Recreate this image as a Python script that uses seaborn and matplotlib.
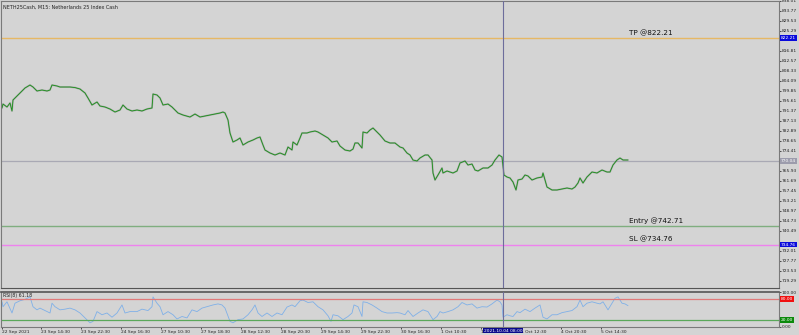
import matplotlib
matplotlib.use("Agg")
import matplotlib.pyplot as plt
import matplotlib.transforms as mtransforms
import seaborn as sns
import pandas as pd

# ---------------- data ----------------
title = "NETH25Cash, M15: Netherlands 25 Index Cash"
rsi_title = "RSI(8) 61.18"

bar_x = [2, 3, 7, 10, 12, 13, 20, 25, 30, 33, 37, 42, 47, 50, 52, 57, 60, 65, 70, 75,
         80, 85, 88, 92, 97, 100, 105, 110, 115, 120, 123, 127, 132, 137, 142, 147, 152,
         153, 157, 160, 163, 168, 172, 175, 178, 183, 190, 195, 200, 205, 210, 215, 220,
         223, 225, 228, 230, 233, 237, 240, 243, 248, 253, 257, 260, 263, 265, 270, 275,
         280, 285, 288, 292, 293, 297, 300, 302, 307, 310, 315, 318, 323, 328, 332, 337,
         340, 345, 350, 353, 355, 358, 362, 363, 367, 370, 373, 377, 380, 385, 390, 395,
         400, 403, 407, 410, 413, 417, 420, 425, 428, 432, 433, 435, 438, 442, 443, 447,
         450, 453, 457, 460, 465, 468, 472, 475, 478, 483, 488, 492, 495, 499, 502, 504,
         507, 510, 513, 516, 518, 522, 525, 528, 532, 537, 542, 543, 547, 552, 557, 562,
         567, 572, 575, 578, 580, 583, 587, 592, 597, 602, 607, 610, 613, 617, 620, 623, 628]
price = [792.64, 794.33, 793.06, 794.76, 791.37, 796.03, 799.00, 801.12, 802.39, 801.54,
         799.85, 800.27, 799.85, 800.27, 802.39, 801.97, 801.54, 801.54, 801.54, 801.30,
         800.69, 799.00, 796.88, 793.91, 795.18, 793.49, 793.06, 792.21, 790.94, 791.79,
         793.91, 792.21, 791.37, 791.79, 791.37, 792.21, 792.64,
         798.57, 798.15, 796.88, 793.91, 794.33, 793.06, 791.79, 790.52, 789.67, 788.82,
         790.09, 788.82, 789.25, 789.67, 790.09, 790.52, 790.94, 790.52, 787.55, 782.04,
         778.22, 779.07, 779.92, 776.95, 778.22, 779.07, 779.92, 780.34, 776.95, 774.83,
         773.56, 772.71, 773.56, 772.71, 776.10, 774.83, 778.22, 776.95, 779.92, 782.04,
         782.04, 782.46, 782.89, 782.46, 781.19, 779.92, 778.22, 778.65, 776.53, 774.83,
         774.41, 775.25, 777.80, 777.80, 775.68,
         782.46, 782.04, 783.31, 784.16, 782.46, 781.19, 778.65, 777.80, 777.80,
         776.10, 775.68, 773.56, 772.71, 770.59, 770.17, 771.44, 772.71, 772.71, 770.59,
         765.08, 762.11, 764.23, 767.20, 765.08, 765.93, 765.50, 765.08, 765.93, 769.32,
         770.17, 768.47, 768.89, 766.35, 765.93, 767.20, 767.20, 768.47, 770.59, 772.71,
         771.86,
         764.23, 763.38, 762.96, 761.26, 757.87, 762.11, 762.53, 764.23, 763.81, 762.11,
         762.96, 763.38, 765.08, 759.14, 757.87, 757.87, 758.29, 758.72, 758.29, 759.14,
         760.84, 762.96, 760.84, 763.38, 765.50, 765.08, 766.35, 765.50, 765.50, 768.47,
         770.59, 771.44, 770.59, 770.59]

rsi_x = [2, 3, 7, 12, 15, 20, 25, 30, 33, 37, 40, 45, 50, 52, 55, 60, 65, 70, 75, 80, 85,
         90, 93, 97, 102, 107, 112, 117, 122, 125, 130, 137, 142, 148, 152, 153, 157, 160,
         163, 168, 173, 177, 182, 187, 192, 197, 202, 207, 213, 218, 222, 225, 230, 233,
         238, 243, 248, 252, 255, 258, 262, 267, 272, 277, 282, 287, 292, 295, 300, 303,
         308, 313, 318, 323, 328, 331, 333, 338, 343, 348, 352, 354, 358, 362, 363, 367,
         372, 377, 382, 387, 392, 397, 400, 405, 408, 413, 418, 423, 428, 433, 437, 440,
         443, 448, 453, 458, 462, 467, 472, 477, 482, 487, 492, 497, 500, 502, 503, 507,
         510, 513, 517, 520, 525, 530, 535, 540, 543, 547, 552, 557, 562, 567, 572, 577,
         580, 583, 587, 592, 597, 600, 603, 608, 612, 615, 618, 622, 625, 628]
rsi_val = [72, 58, 72, 40, 68, 75, 79, 86, 58, 49, 54, 47, 40, 68, 58, 49, 51, 54, 49, 40,
           26, 12, 16, 44, 35, 40, 28, 40, 63, 40, 44, 44, 51, 47, 58, 86, 68, 58, 35, 44,
           35, 23, 30, 26, 49, 44, 54, 58, 63, 66, 63, 54, 16, 12, 21, 23, 35, 49, 63, 40,
           30, 40, 30, 40, 35, 57, 63, 58, 75, 77, 70, 72, 58, 49, 32, 16, 35, 32, 21, 30,
           40, 63, 58, 30, 72, 70, 63, 54, 44, 40, 40, 41, 40, 35, 47, 30, 40, 49, 44, 21,
           30, 44, 40, 44, 49, 58, 70, 63, 66, 54, 58, 57, 66, 77, 72, 63, 28, 35, 32, 30,
           44, 41, 51, 44, 54, 63, 28, 23, 35, 35, 41, 44, 47, 58, 77, 58, 68, 72, 68, 66,
           72, 49, 68, 82, 86, 68, 66, 61]

price_ticks = [838.01, 833.77, 829.53, 825.29, 816.81, 812.57, 808.33, 804.09, 799.85,
               795.61, 791.37, 787.13, 782.89, 778.65, 774.41, 765.93, 761.69, 757.45,
               753.21, 748.97, 744.73, 740.49, 732.01, 727.77, 723.53, 719.29]

tp_level, entry_level, sl_level, last_price = 822.21, 742.71, 734.76, 770.04
rsi_hi, rsi_lo = 80, 20

time_ticks = [2, 41, 81, 121, 161, 201, 241, 281, 321, 361, 401, 441, 481, 521, 561, 601]
time_labels = ["22 Sep 2021", "23 Sep 14:30", "23 Sep 22:30", "24 Sep 16:30",
               "27 Sep 10:30", "27 Sep 18:30", "28 Sep 12:30", "28 Sep 20:30",
               "29 Sep 14:30", "29 Sep 22:30", "30 Sep 16:30", "1 Oct 10:30",
               "1 Oct 18:30", "4 Oct 12:30", "4 Oct 20:30", "5 Oct 14:30"]
cross_x = 503
cross_label = "2021.10.04 08:00"

# ---------------- style ----------------
sns.set_theme(style="ticks")
BG = "#d4d4d4"
plt.rcParams["font.family"] = ["DejaVu Sans"]
FS = 3.2

fig = plt.figure(figsize=(7.99, 3.35), dpi=100, facecolor=BG)
W, H = 799.0, 335.0
ax = fig.add_axes([1 / W, 1 - 288 / H, 778 / W, 287 / H])
ax_r = fig.add_axes([1 / W, 1 - 327 / H, 778 / W, 35 / H])

for a in (ax, ax_r):
    a.set_facecolor(BG)
    for s in a.spines.values():
        s.set_color("#7a7a7a")
        s.set_linewidth(0.8)
    a.set_xlim(1, 779)
ax_r.spines["top"].set_color("#555555")
ax_r.spines["top"].set_linewidth(1.2)
ax.spines["bottom"].set_color("#555555")

df = pd.DataFrame({"x": bar_x, "price": price})
sns.lineplot(data=df, x="x", y="price", ax=ax, color="#8e8e8e", lw=1.3, alpha=0.6,
             estimator=None, sort=False)
sns.lineplot(data=df, x="x", y="price", ax=ax, color="#169016", lw=0.6,
             estimator=None, sort=False)
ax.set_ylim(716.32, 838.0)

# horizontal levels
ax.axhline(tp_level, color="#e6b865", lw=1.0, zorder=1)
ax.axhline(entry_level, color="#7fae7f", lw=1.0, zorder=1)
ax.axhline(sl_level, color="#ee82ee", lw=1.0, zorder=1)
ax.axhline(last_price, color="#a9a9b4", lw=0.9, zorder=1)
ax.text(629, tp_level + 0.8, f"TP @{tp_level:.2f}", fontsize=5.2, color="#111111",
        va="bottom", ha="left")
ax.text(629, entry_level + 0.8, f"Entry @{entry_level:.2f}", fontsize=5.2,
        color="#111111", va="bottom", ha="left")
ax.text(629, sl_level + 0.8, f"SL @{sl_level:.2f}", fontsize=5.2, color="#111111",
        va="bottom", ha="left")

ax.text(3, 836.6, title, fontsize=3.5, color="#222222", va="top", ha="left")

# right price axis
ax.yaxis.tick_right()
ax.set_yticks(price_ticks)
ax.set_yticklabels([f"{v:.2f}" for v in price_ticks])
ax.tick_params(axis="y", labelsize=FS, length=1.5, width=0.6, color="#333333",
               labelcolor="#222222", pad=0.6)
ax.set_xticks([])
ax.set_xlabel("")
ax.set_ylabel("")

trans = mtransforms.blended_transform_factory(ax.transAxes, ax.transData)
for val, fc, tc in [(tp_level, "#0a0adc", "white"), (sl_level, "#0a0adc", "white"),
                    (last_price, "#9c9cac", "white")]:
    ax.text(1.002, val, f"{val:.2f}", transform=trans, fontsize=FS, color=tc,
            va="center", ha="left", clip_on=False,
            bbox=dict(boxstyle="square,pad=0.2", fc=fc, ec="none"))

# RSI pane
dr = pd.DataFrame({"x": rsi_x, "rsi": rsi_val})
sns.lineplot(data=dr, x="x", y="rsi", ax=ax_r, color="#7fb0e8", lw=0.6,
             estimator=None, sort=False)
ax_r.set_ylim(0, 100)
ax_r.axhline(rsi_hi, color="#e07a7a", lw=0.9)
ax_r.axhline(rsi_lo, color="#5aa85a", lw=0.9)
ax_r.text(3, 97, rsi_title, fontsize=3.3, color="#222222", va="top", ha="left")
ax_r.yaxis.tick_right()
ax_r.set_yticks([100, 0])
ax_r.set_yticklabels(["100.00", "0.00"])
ax_r.tick_params(axis="y", labelsize=FS, length=1.5, width=0.6, color="#333333",
                 labelcolor="#222222", pad=0.6)
trans_r = mtransforms.blended_transform_factory(ax_r.transAxes, ax_r.transData)
for val, fc in [(rsi_hi, "#f01010"), (rsi_lo, "#0c8a0c")]:
    ax_r.text(1.002, val, f"{val:.2f}", transform=trans_r, fontsize=FS, color="white",
              va="center", ha="left", clip_on=False,
              bbox=dict(boxstyle="square,pad=0.2", fc=fc, ec="none"))

ax_r.set_xticks(time_ticks)
ax_r.set_xticklabels(time_labels)
for lab in ax_r.get_xticklabels():
    lab.set_horizontalalignment("left")
ax_r.tick_params(axis="x", labelsize=FS, length=1.5, width=0.6, color="#333333",
                 labelcolor="#222222", pad=0.8)
ax_r.set_xlabel("")
ax_r.set_ylabel("")

# crosshair
for a in (ax, ax_r):
    a.axvline(cross_x, color="#6d6d9c", lw=0.8, zorder=5)
trans_x = mtransforms.blended_transform_factory(ax_r.transData, fig.transFigure)
fig.text(cross_x, 1 - 330.5 / H, cross_label, transform=trans_x, fontsize=FS,
         color="white", ha="center", va="center",
         bbox=dict(boxstyle="square,pad=0.2", fc="#0a0a8c", ec="none"))

fig.savefig("out.png", dpi=100, facecolor=BG)
